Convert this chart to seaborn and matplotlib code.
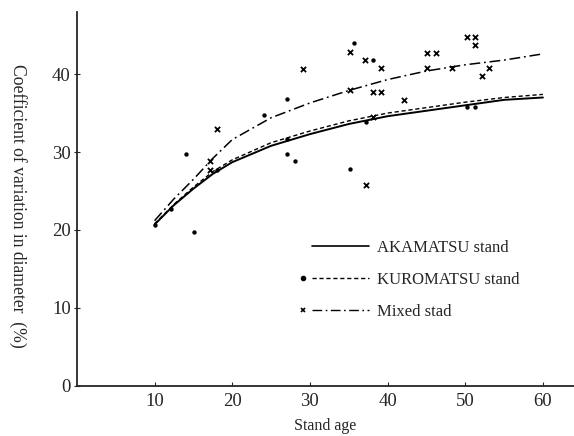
import numpy as np
import pandas as pd
import seaborn as sns
from matplotlib import pyplot as plt
from matplotlib.lines import Line2D
from matplotlib.legend_handler import HandlerBase

# fitted curves (stand age -> CV in diameter, %)
curve_age = [10, 12.5, 15, 17.5, 20, 25, 30, 35, 40, 45, 50, 55, 60]
aka_curve = [20.7, 23.2, 25.3, 27.2, 28.7, 30.8, 32.3, 33.6, 34.6, 35.3, 36.0, 36.7, 37.0]
kuro_curve = [20.8, 23.3, 25.5, 27.5, 29.0, 31.2, 32.7, 34.0, 35.0, 35.7, 36.4, 37.0, 37.4]
mixed_curve = [21.2, 24.0, 26.5, 29.2, 31.6, 34.4, 36.3, 37.9, 39.3, 40.4, 41.2, 41.8, 42.6]

# observed plots
kuro_age = [10.0, 12.1, 14.0, 15.1, 18.1, 24.1, 27.1, 27.1, 27.1, 28.1, 35.2, 35.7, 37.2, 38.1, 50.2, 51.2]
kuro_cv = [20.7, 22.7, 29.8, 19.8, 27.7, 34.7, 36.8, 31.7, 29.8, 28.8, 27.8, 44.0, 33.8, 41.8, 35.8, 35.8]
mixed_age = [17.1, 17.1, 18.0, 29.1, 35.2, 35.2, 37.1, 37.2, 38.1, 38.1, 39.1, 39.1, 42.1,
             45.1, 46.2, 45.1, 48.3, 50.2, 51.2, 51.2, 52.2, 53.1]
mixed_cv = [28.8, 27.7, 33.0, 40.7, 42.8, 37.9, 41.8, 25.8, 37.7, 34.5, 40.8, 37.7, 36.7,
            42.7, 42.7, 40.8, 40.8, 44.7, 44.8, 43.7, 39.8, 40.8]

labels = ["AKAMATSU stand", "KUROMATSU stand", "Mixed stad"]

sns.set_style("ticks")
plt.rcParams['font.family'] = ['Liberation Serif', 'DejaVu Serif']


class LeadMarkerHandler(HandlerBase):
    # marker sits at the left end, line follows it (as in the printed figure)
    def create_artists(self, legend, orig_handle, xdescent, ydescent,
                       width, height, fontsize, trans):
        x0 = -xdescent
        y = height / 2 - ydescent
        seg = Line2D([x0 + 0.15 * width, x0 + width], [y, y])
        seg.update_from(orig_handle)
        seg.set_marker('None')
        seg.set_transform(trans)
        mk = Line2D([x0 + 0.01 * width], [y])
        mk.update_from(orig_handle)
        mk.set_linestyle('None')
        mk.set_transform(trans)
        return [seg, mk]


fig = plt.figure(figsize=(5.74, 4.36), dpi=100)
ax = fig.add_axes([0.134, 0.115, 0.866, 0.858])

sns.lineplot(x=curve_age, y=aka_curve, ax=ax, color='black', lw=1.4, linestyle='-')
sns.lineplot(x=curve_age, y=kuro_curve, ax=ax, color='black', lw=1.0, linestyle=(0, (3, 2)))
sns.lineplot(x=curve_age, y=mixed_curve, ax=ax, color='black', lw=1.1,
             linestyle=(0, (7, 2.5, 1.2, 2.5)))

sns.scatterplot(x=kuro_age, y=kuro_cv, ax=ax, color='black', marker='o', s=10,
                edgecolor='black', linewidth=0)
sns.scatterplot(x=mixed_age, y=mixed_cv, ax=ax, color='black', marker='x', s=14,
                linewidth=1.3)

ax.set_xlim(0, 64)
ax.set_ylim(0, 48)
ax.set_xticks([10, 20, 30, 40, 50, 60])
ax.set_yticks([0, 10, 20, 30, 40])
ax.tick_params(axis='x', direction='in', length=3, labelsize=13.5, pad=5)
ax.tick_params(axis='y', direction='inout', length=5, labelsize=13.5, pad=2)
sns.despine(ax=ax)
for s in ['left', 'bottom']:
    ax.spines[s].set_linewidth(1.3)

ax.set_xlabel("Stand age", fontsize=11.5, labelpad=6)
ax.set_ylabel("Coefficient of variation in diameter  (%)", fontsize=12.7,
              rotation=270, va='center')
ax.yaxis.set_label_coords(-0.119, 0.48)

handles = [
    Line2D([], [], color='black', lw=1.2, linestyle='-', marker='None'),
    Line2D([], [], color='black', lw=1.0, linestyle=(0, (3, 2)), marker='o', markersize=3),
    Line2D([], [], color='black', lw=1.0, linestyle=(0, (7, 2.5, 1.2, 2.5)), marker='x',
           markersize=3.5, markeredgewidth=1.2),
]
ax.legend(handles, labels, handler_map={Line2D: LeadMarkerHandler()},
          loc='upper left', bbox_to_anchor=(0.526, 0.449), bbox_transform=fig.transFigure,
          frameon=False, fontsize=12, handlelength=4, handletextpad=0.5,
          labelspacing=0.95, borderpad=0, borderaxespad=0)

plt.savefig("out.png", dpi=100)
